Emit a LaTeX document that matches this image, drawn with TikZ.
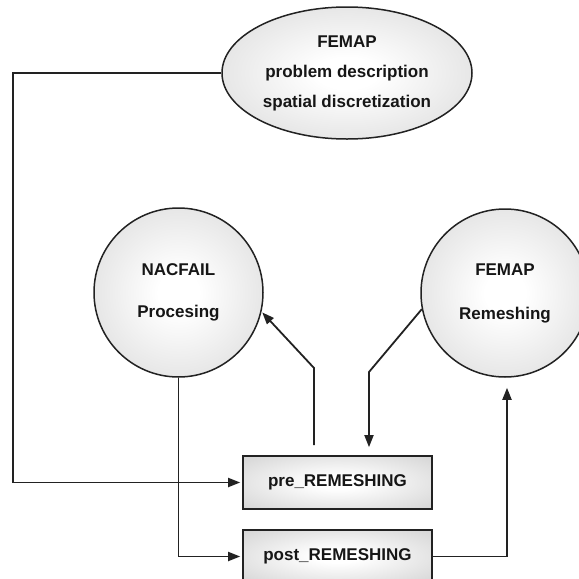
\documentclass[tikz,border=0pt]{standalone}
\usepackage{fontspec}
\setmainfont{Liberation Sans}
\usetikzlibrary{arrows.meta,shapes.geometric}
\definecolor{ln}{HTML}{222222}
\definecolor{txt}{HTML}{161616}
\pgfdeclareradialshading{softblob}{\pgfpoint{0bp}{0bp}}{%
  color(0bp)=(white); color(6bp)=(white);
  color(38bp)=(rgb,255:red,214;green,214;blue,214);
  color(50bp)=(rgb,255:red,198;green,198;blue,198);
  color(100bp)=(rgb,255:red,198;green,198;blue,198)}
\pgfdeclareradialshading{softbox}{\pgfpoint{0bp}{0bp}}{%
  color(0bp)=(white); color(6bp)=(white);
  color(36bp)=(rgb,255:red,212;green,212;blue,212);
  color(50bp)=(rgb,255:red,195;green,195;blue,195);
  color(100bp)=(rgb,255:red,195;green,195;blue,195)}
\begin{document}
\begin{tikzpicture}[x=1pt,y=-1pt,
  conn/.style={draw=ln,line width=1.8pt},
  arr/.style={conn,-{Triangle[length=12pt,width=9pt]}},
  blob/.style={draw=ln,line width=1.5pt,shading=softblob,
    text=txt,align=center,inner sep=0pt},
  flowbox/.style={draw=ln,line width=1.6pt,shading=softbox,
    text=txt,font=\fontsize{17}{20}\selectfont\bfseries,
    minimum width=189pt,minimum height=53pt,inner sep=0pt}]
\useasboundingbox (0,0) rectangle (579,579);
\node[blob,ellipse,minimum width=250pt,minimum height=132pt,
  font=\fontsize{17}{30}\selectfont\bfseries] (ell) at (347,73)
  {FEMAP\\problem description\\spatial discretization};
\node[blob,circle,minimum size=169pt,font=\fontsize{17}{42}\selectfont\bfseries]
  (nac) at (178.5,292.5) {NACFAIL\\Procesing};
\node[blob,circle,minimum size=168pt,font=\fontsize{17}{44}\selectfont\bfseries]
  (rem) at (505,293) {FEMAP\\Remeshing};
\node[flowbox] (pre) at (337.5,482.5) {pre\_REMESHING};
\node[flowbox] (post) at (337.5,556.5) {post\_REMESHING};
\coordinate (c1) at (13,73);
\coordinate (k1) at (314,368);
\coordinate (k2) at (369,372);
\draw[arr,shorten >=2pt] (ell.west) -- (c1) |- (pre.west);
\draw[arr,shorten >=2pt] (nac.south) |- (post.west);
\draw[arr,shorten >=1pt] ([xshift=-23.5pt,yshift=10pt]pre.north) -- (k1) -- (nac.-13);
\draw[arr] (rem.191) -- (k2) -- ([xshift=31.5pt,yshift=8pt]pre.north);
\draw[arr] (post.east) -| ([xshift=2pt,yshift=-10pt]rem.south);
\end{tikzpicture}
\end{document}
